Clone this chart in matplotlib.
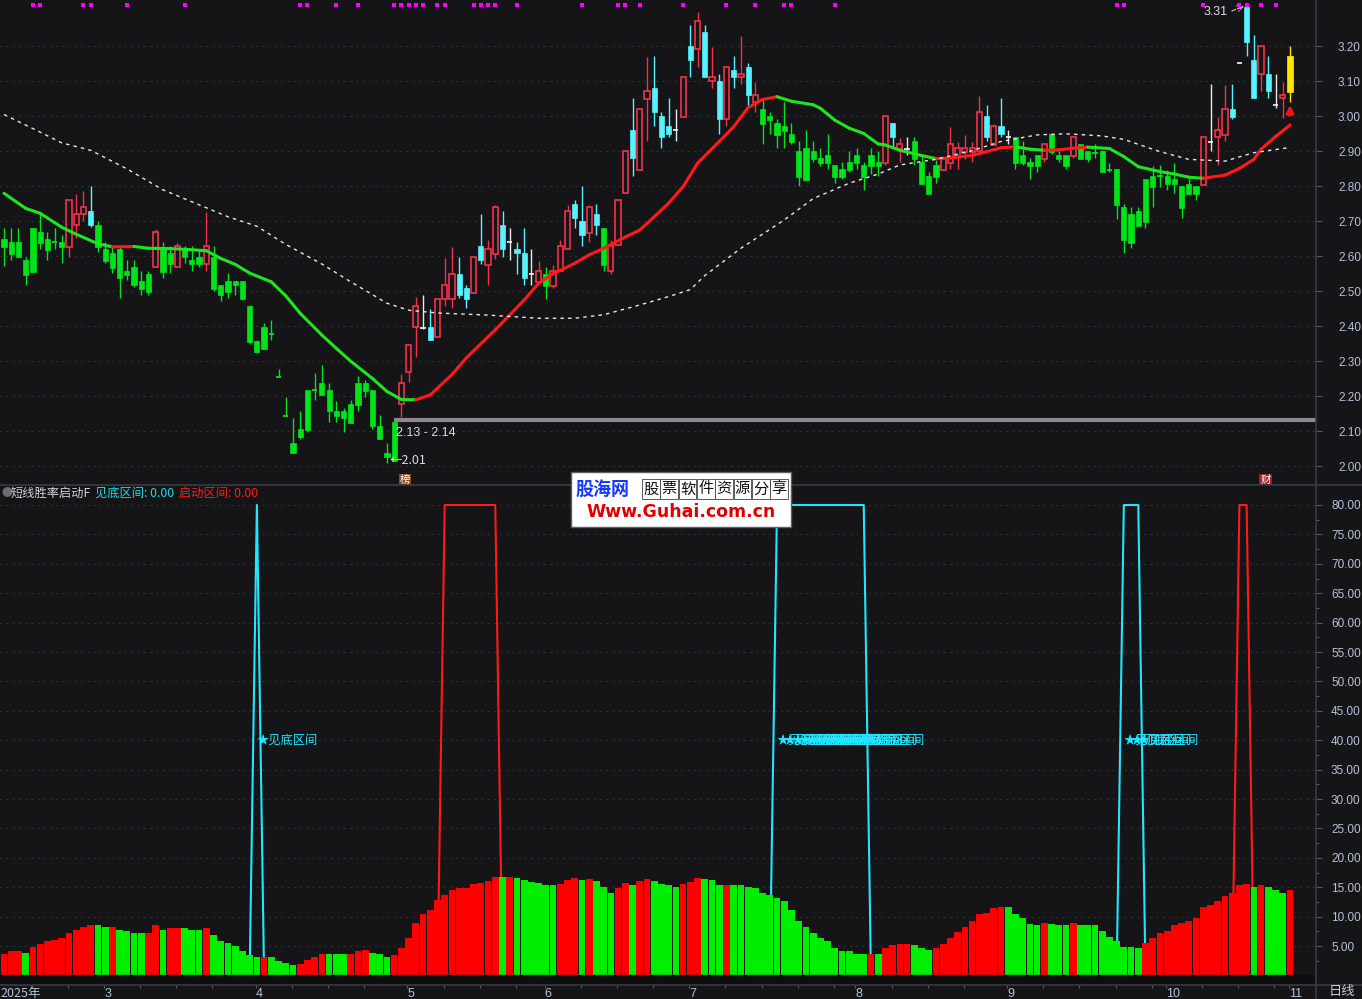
import numpy as np
import matplotlib
matplotlib.use("Agg")
import matplotlib.pyplot as plt
from matplotlib.patches import Rectangle
from matplotlib.collections import LineCollection
from matplotlib.lines import Line2D

plt.rcParams['font.family'] = ['Noto Sans CJK SC', 'DejaVu Sans']

# ---------- DATA (daily candles, index 0 = mid Feb 2025, 178 = 3 Nov) ----------
opens = [2.649, 2.641, 2.641, 2.590, 2.681, 2.670, 2.650, 2.640, 2.641, 2.628,
         2.689, 2.721, 2.730, 2.690, 2.621, 2.610, 2.621, 2.559, 2.570, 2.530,
         2.550, 2.569, 2.621, 2.610, 2.569, 2.621, 2.590, 2.599, 2.578, 2.599,
         2.519, 2.530, 2.530, 2.530, 2.458, 2.358, 2.398, 2.377, 2.256, 2.145,
         2.066, 2.106, 2.218, 2.218, 2.238, 2.218, 2.158, 2.158, 2.178, 2.238,
         2.238, 2.218, 2.116, 2.038, 2.126, 2.178, 2.269, 2.398, 2.395, 2.398,
         2.370, 2.477, 2.477, 2.549, 2.509, 2.496, 2.629, 2.575, 2.607, 2.689,
         2.640, 2.621, 2.609, 2.549, 2.527, 2.549, 2.515, 2.558, 2.621, 2.749,
         2.701, 2.668, 2.721, 2.681, 2.558, 2.632, 2.780, 2.961, 2.847, 3.050,
         3.081, 3.001, 2.972, 2.961, 2.999, 3.201, 3.191, 3.241, 3.100, 3.101,
         2.991, 3.132, 3.111, 3.141, 3.041, 3.021, 3.001, 2.981, 2.972, 2.949,
         2.901, 2.909, 2.901, 2.881, 2.889, 2.861, 2.849, 2.869, 2.889, 2.861,
         2.889, 2.869, 2.868, 2.981, 2.907, 2.908, 2.929, 2.869, 2.829, 2.861,
         2.847, 2.868, 2.887, 2.898, 2.898, 2.901, 3.001, 2.918, 2.972, 2.940,
         2.941, 2.889, 2.869, 2.890, 2.879, 2.949, 2.890, 2.890, 2.887, 2.921,
         2.901, 2.895, 2.901, 2.848, 2.849, 2.742, 2.721, 2.729, 2.821, 2.829,
         2.829, 2.829, 2.821, 2.801, 2.808, 2.801, 2.803, 2.927, 2.940, 2.947,
         3.021, 3.152, 3.312, 3.161, 3.120, 3.121, 3.031, 3.051, 3.172]
highs = [2.681, 2.681, 2.681, 2.598, 2.681, 2.723, 2.670, 2.681, 2.661, 2.760,
         2.778, 2.787, 2.801, 2.701, 2.640, 2.626, 2.629, 2.590, 2.590, 2.559,
         2.559, 2.679, 2.641, 2.630, 2.638, 2.629, 2.629, 2.620, 2.727, 2.629,
         2.519, 2.551, 2.530, 2.530, 2.460, 2.360, 2.410, 2.418, 2.278, 2.198,
         2.137, 2.158, 2.218, 2.268, 2.289, 2.238, 2.187, 2.166, 2.189, 2.258,
         2.247, 2.218, 2.147, 2.066, 2.130, 2.264, 2.348, 2.485, 2.489, 2.449,
         2.478, 2.594, 2.627, 2.598, 2.518, 2.598, 2.722, 2.647, 2.747, 2.729,
         2.681, 2.641, 2.681, 2.621, 2.587, 2.569, 2.575, 2.647, 2.747, 2.761,
         2.801, 2.747, 2.749, 2.681, 2.647, 2.761, 2.901, 3.052, 3.021, 3.169,
         3.172, 3.012, 3.052, 3.021, 3.111, 3.261, 3.298, 3.261, 3.198, 3.121,
         3.140, 3.172, 3.229, 3.152, 3.098, 3.049, 3.012, 2.992, 3.041, 2.981,
         2.929, 2.961, 2.929, 2.909, 2.949, 2.861, 2.869, 2.901, 2.909, 2.869,
         2.909, 2.901, 3.001, 2.981, 2.938, 2.941, 2.941, 2.889, 2.841, 2.875,
         2.878, 2.969, 2.927, 2.947, 2.927, 3.058, 3.032, 2.978, 3.052, 2.961,
         2.941, 2.929, 2.881, 2.890, 2.921, 2.949, 2.901, 2.890, 2.941, 2.921,
         2.901, 2.921, 2.904, 2.868, 2.849, 2.749, 2.740, 2.740, 2.821, 2.859,
         2.861, 2.848, 2.868, 2.801, 2.821, 2.801, 2.941, 3.092, 2.999, 3.089,
         3.092, 3.152, 3.312, 3.232, 3.201, 3.172, 3.121, 3.099, 3.200]
lows = [2.571, 2.590, 2.597, 2.519, 2.556, 2.621, 2.590, 2.621, 2.580, 2.599,
        2.651, 2.702, 2.683, 2.612, 2.580, 2.552, 2.480, 2.531, 2.511, 2.490,
        2.490, 2.569, 2.539, 2.552, 2.569, 2.580, 2.559, 2.570, 2.559, 2.500,
        2.471, 2.480, 2.489, 2.476, 2.350, 2.325, 2.335, 2.361, 2.256, 2.145,
        2.037, 2.078, 2.099, 2.189, 2.204, 2.128, 2.128, 2.099, 2.125, 2.158,
        2.198, 2.108, 2.077, 2.010, 2.016, 2.140, 2.240, 2.313, 2.393, 2.360,
        2.370, 2.459, 2.451, 2.480, 2.451, 2.496, 2.578, 2.518, 2.591, 2.598,
        2.589, 2.549, 2.518, 2.518, 2.518, 2.478, 2.509, 2.558, 2.621, 2.681,
        2.629, 2.641, 2.661, 2.558, 2.549, 2.632, 2.780, 2.829, 2.847, 2.929,
        2.972, 2.909, 2.941, 2.929, 2.999, 3.112, 3.141, 3.112, 3.081, 2.949,
        2.972, 3.081, 3.092, 3.032, 3.012, 2.921, 2.949, 2.909, 2.909, 2.921,
        2.801, 2.818, 2.869, 2.858, 2.849, 2.809, 2.821, 2.841, 2.849, 2.789,
        2.835, 2.829, 2.861, 2.912, 2.870, 2.889, 2.861, 2.807, 2.778, 2.810,
        2.847, 2.850, 2.850, 2.878, 2.869, 2.901, 2.929, 2.918, 2.941, 2.921,
        2.850, 2.861, 2.821, 2.841, 2.869, 2.892, 2.869, 2.850, 2.881, 2.878,
        2.869, 2.881, 2.842, 2.842, 2.708, 2.610, 2.623, 2.687, 2.682, 2.742,
        2.799, 2.789, 2.782, 2.710, 2.779, 2.761, 2.803, 2.902, 2.862, 2.930,
        2.993, 3.152, 3.173, 3.053, 3.073, 3.053, 3.023, 2.994, 3.042]
closes = [2.628, 2.607, 2.597, 2.548, 2.556, 2.639, 2.619, 2.640, 2.628, 2.760,
          2.721, 2.740, 2.690, 2.628, 2.588, 2.568, 2.537, 2.548, 2.517, 2.508,
          2.497, 2.670, 2.556, 2.577, 2.629, 2.597, 2.577, 2.577, 2.629, 2.508,
          2.490, 2.497, 2.517, 2.478, 2.356, 2.328, 2.335, 2.377, 2.256, 2.145,
          2.037, 2.083, 2.104, 2.218, 2.204, 2.157, 2.144, 2.137, 2.125, 2.176,
          2.216, 2.116, 2.077, 2.026, 2.016, 2.237, 2.348, 2.458, 2.395, 2.360,
          2.478, 2.518, 2.549, 2.489, 2.478, 2.598, 2.589, 2.620, 2.741, 2.621,
          2.640, 2.609, 2.538, 2.549, 2.558, 2.515, 2.558, 2.629, 2.729, 2.709,
          2.661, 2.741, 2.689, 2.575, 2.629, 2.761, 2.901, 2.881, 3.021, 3.072,
          3.012, 2.941, 2.949, 2.961, 3.111, 3.161, 3.271, 3.112, 3.111, 2.992,
          3.140, 3.112, 3.121, 3.061, 3.061, 2.978, 2.989, 2.946, 2.958, 2.926,
          2.827, 2.818, 2.878, 2.866, 2.866, 2.827, 2.827, 2.846, 2.866, 2.827,
          2.858, 2.858, 3.001, 2.941, 2.921, 2.908, 2.878, 2.807, 2.778, 2.827,
          2.878, 2.921, 2.909, 2.909, 2.909, 3.012, 2.941, 2.972, 2.949, 2.940,
          2.867, 2.867, 2.858, 2.858, 2.921, 2.898, 2.878, 2.858, 2.941, 2.878,
          2.878, 2.895, 2.842, 2.848, 2.747, 2.647, 2.639, 2.687, 2.699, 2.799,
          2.829, 2.808, 2.808, 2.739, 2.779, 2.779, 2.941, 2.927, 2.960, 3.020,
          2.999, 3.152, 3.213, 3.053, 3.201, 3.073, 3.031, 3.060, 3.070]

# moving averages (day index, value)
fast_ma_idx = [0, 3, 5, 8, 10, 13, 15, 18, 20, 23, 25, 28, 30, 32, 34, 37, 39, 41,
               44, 46, 48, 51, 53, 55, 57, 59, 62, 64, 66, 68, 72, 74, 76, 79, 81,
               83, 86, 88, 90, 92, 94, 96, 99, 101, 103, 105, 107, 109, 112, 113,
               115, 117, 119, 121, 122, 124, 127, 129, 131, 134, 136, 138, 140,
               142, 144, 146, 148, 150, 153, 155, 157, 160, 162, 164, 166, 169,
               171, 173, 174, 176, 178]
fast_ma_val = [2.780, 2.737, 2.723, 2.683, 2.663, 2.636, 2.627, 2.628, 2.623, 2.622,
               2.620, 2.616, 2.594, 2.577, 2.552, 2.527, 2.487, 2.437, 2.375, 2.337,
               2.300, 2.251, 2.214, 2.191, 2.190, 2.204, 2.262, 2.310, 2.350, 2.390,
               2.475, 2.523, 2.550, 2.580, 2.604, 2.623, 2.655, 2.675, 2.713, 2.752,
               2.799, 2.866, 2.928, 2.970, 3.025, 3.048, 3.056, 3.043, 3.033, 3.023,
               2.989, 2.966, 2.951, 2.921, 2.918, 2.903, 2.888, 2.879, 2.881, 2.888,
               2.899, 2.910, 2.913, 2.906, 2.903, 2.904, 2.909, 2.912, 2.908, 2.885,
               2.856, 2.842, 2.835, 2.826, 2.823, 2.832, 2.851, 2.877, 2.906, 2.942,
               2.975]
slow_ma_idx = [0, 4, 8, 12, 17, 22, 31, 35, 39, 44, 48, 53, 56, 60, 67, 74, 79, 83,
               88, 92, 95, 97, 102, 108, 112, 117, 121, 124, 129, 134, 138, 143, 147,
               152, 155, 160, 164, 169, 173, 178]
slow_ma_val = [3.005, 2.965, 2.924, 2.903, 2.850, 2.790, 2.713, 2.686, 2.634, 2.578,
               2.527, 2.466, 2.446, 2.438, 2.432, 2.423, 2.423, 2.433, 2.461, 2.485,
               2.505, 2.545, 2.623, 2.704, 2.765, 2.809, 2.835, 2.861, 2.877, 2.902,
               2.928, 2.947, 2.950, 2.944, 2.934, 2.899, 2.877, 2.872, 2.896, 2.911]

# indicator panel: bar heights and up/down flag (r = red, g = green)
bar_val = [3.7, 4.1, 4.1, 3.9, 4.9, 5.4, 5.8, 6.1, 6.3, 7.3,
           7.8, 8.3, 8.5, 8.5, 8.3, 8.3, 7.8, 7.6, 7.3, 7.3,
           7.3, 8.5, 7.8, 8.0, 8.1, 8.1, 7.8, 7.8, 8.1, 6.9,
           5.9, 5.5, 5.0, 4.2, 3.4, 3.1, 3.1, 3.1, 2.4, 2.1,
           1.8, 2.0, 2.6, 3.1, 3.6, 3.6, 3.6, 3.6, 3.7, 4.1,
           4.4, 3.9, 3.7, 3.2, 3.4, 4.6, 6.3, 9.0, 10.4, 11.2,
           12.9, 13.7, 14.6, 14.8, 14.8, 15.6, 15.8, 16.1, 16.8, 16.8,
           16.8, 16.6, 16.3, 15.9, 15.8, 15.3, 15.3, 15.6, 16.3, 16.6,
           16.3, 16.4, 16.1, 15.0, 14.0, 14.8, 15.8, 15.4, 16.1, 16.4,
           16.1, 15.6, 15.3, 15.0, 15.6, 15.9, 16.6, 16.4, 16.3, 15.4,
           15.4, 15.4, 15.3, 15.0, 14.8, 14.1, 13.6, 13.1, 12.6, 11.2,
           9.2, 8.3, 7.3, 6.4, 5.8, 4.7, 4.2, 4.1, 3.7, 3.6,
           3.7, 3.6, 4.7, 5.2, 5.4, 5.4, 5.2, 4.6, 4.4, 4.7,
           5.4, 6.4, 7.4, 8.3, 9.2, 10.5, 10.7, 11.4, 11.6, 11.6,
           10.5, 9.7, 8.8, 8.6, 9.0, 8.8, 8.5, 8.5, 9.0, 8.6,
           8.6, 8.6, 7.6, 6.6, 5.8, 4.9, 4.9, 4.7, 5.5, 6.4,
           7.3, 7.6, 8.5, 9.0, 9.2, 9.7, 11.6, 12.0, 12.6, 13.5,
           14.0, 15.3, 15.6, 15.0, 15.4, 15.0, 14.5, 14.1, 14.5]
bar_dir = ("rrrgrrrrrr" "rrrggrgggg" "rrgrrgggrg" "ggggggrggg" "grrrrgggrr"
           "rgggrrrrrr" "rrrrrrrrrg" "rggggggrrr" "grgggrrgrr" "ggggrrrggg"
           "rggggggggg" "gggggggggg" "rgrrrrgggr" "rrrrrrrrrg" "ggggrgggrg"
           "ggggggggrr" "rrrrrrrrrr" "rrrgrgggr")

# signal days: 见底区间 (cyan) and 启动区间 (red) jump to 80
bottom_zone_days = [35, 107, 108, 109, 110, 111, 112, 113, 114, 115, 116, 117,
                    118, 119, 155, 156, 157]
start_zone_days = [61, 62, 63, 64, 65, 66, 67, 68, 171, 172]
signal_top = 80

# magenta marks along the top
mark_days = [4, 5, 11, 12, 17, 25, 41, 42, 46, 49, 54, 55, 56, 57, 58, 60, 61,
             65, 66, 67, 68, 71, 80, 85, 86, 88, 94, 100, 104, 108, 109, 115,
             154, 155, 166, 171, 172, 174, 176]

month_days = [14, 35, 56, 75, 95, 118, 139, 161, 178]
month_labels = ['3', '4', '5', '6', '7', '8', '9', '10', '11']
price_ticks = [2.0, 2.1, 2.2, 2.3, 2.4, 2.5, 2.6, 2.7, 2.8, 2.9, 3.0, 3.1, 3.2]
ind_ticks = [5, 10, 15, 20, 25, 30, 35, 40, 45, 50, 55, 60, 65, 70, 75, 80]

# ---------- STYLE ----------
BG = '#151417'
RED = '#f5304a'
CYAN = '#55f2ff'
GREEN = '#00e41a'
WHITE = '#e8e8e8'
YELLOW = '#ffe600'
AXIS_TXT = '#b4c2da'
LINE = '#3a3a44'
GRID = '#3c3c46'
NUM_FONT = 'Liberation Sans'

W, H = 1362, 999
fig = plt.figure(figsize=(W / 100, H / 100), dpi=100, facecolor=BG)


def fx(px):
    return px / W


def fy(py):
    return 1 - py / H


ax = fig.add_axes([0, fy(485), fx(1316), 485 / H])
ax2 = fig.add_axes([0, fy(985), fx(1316), 500 / H])
for a in (ax, ax2):
    a.set_facecolor(BG)
    for s in a.spines.values():
        s.set_visible(False)
    a.set_xlim(-0.554, 181.6)

n = len(closes)
idx = np.arange(n)

# ---------- CANDLES ----------
ma_here = np.interp(idx, fast_ma_idx, fast_ma_val)
bw = 0.72
for i in idx:
    o, h, l, c = opens[i], highs[i], lows[i], closes[i]
    lo_b, hi_b = min(o, c), max(o, c)
    if i == n - 1:
        col = YELLOW
    elif c > o:
        col = RED
    elif c < o:
        col = CYAN if c >= ma_here[i] else GREEN
    else:
        col = WHITE if c >= ma_here[i] else GREEN
    ax.vlines(i, l, h, color=col, lw=1, zorder=2)
    if c == o:
        ax.hlines(c, i - bw / 2, i + bw / 2, color=col, lw=1.3, zorder=3)
    elif col == RED:
        ax.add_patch(Rectangle((i - bw / 2, lo_b), bw, hi_b - lo_b,
                               fc=BG, ec=col, lw=1.2, zorder=3))
    else:
        ax.add_patch(Rectangle((i - bw / 2, lo_b), bw, hi_b - lo_b,
                               fc=col, ec=col, lw=0.5, zorder=3))

# ---------- MOVING AVERAGES ----------
pts = np.column_stack([fast_ma_idx, fast_ma_val])
segs = np.stack([pts[:-1], pts[1:]], axis=1)
seg_cols = ['#ff1a1a' if b > a else '#1ee61e'
            for a, b in zip(fast_ma_val[:-1], fast_ma_val[1:])]
ax.add_collection(LineCollection(segs, colors=seg_cols, lw=2.2, zorder=4,
                                 capstyle='round'))
ax.plot(slow_ma_idx, slow_ma_val, color=WHITE, lw=1, ls=(0, (2.5, 3)), zorder=4)

# gap line and labels
ax.hlines(2.132, 54, 181.6, color='#8a8a8e', lw=3, zorder=1)
ax.text(54.2, 2.095, '2.13 - 2.14', color='#d8dce8', fontsize=9, va='center',
        ha='left', zorder=6, family=NUM_FONT)
ax.text(53.3, 2.016, '\u21902.01', color='#d8dce8', fontsize=9, va='center',
        ha='left', zorder=6)
ax.annotate('', xy=(172, 3.318), xytext=(169.6, 3.298),
            arrowprops=dict(arrowstyle='->', color='#c8c8d0', lw=0.8, ls='--'),
            zorder=6)
ax.text(169.4, 3.298, '3.31', color='#d8dce8', fontsize=9, va='center',
        ha='right', zorder=6, family=NUM_FONT)
ax.annotate('', xy=(178, 3.04), xytext=(178, 2.995),
            arrowprops=dict(arrowstyle='-|>', color='#ff1010', lw=2,
                            mutation_scale=11), zorder=6)

# magenta marks at the top edge
ax.scatter(mark_days, [3.318] * len(mark_days), marker='s', s=9,
           color='#ff00ff', zorder=6, linewidths=0)

# small tags at the bottom of the price panel
ax.text(55.5, 1.96, '榜', fontsize=7.5, color='#ffffff', ha='center',
        va='center', zorder=6,
        bbox=dict(boxstyle='square,pad=0.1', fc='#8b4a1c', ec='none'))
ax.text(174.6, 1.96, '财', fontsize=7.5, color='#ffffff', ha='center',
        va='center', zorder=6,
        bbox=dict(boxstyle='square,pad=0.1', fc='#a0202a', ec='none'))

ax.set_ylim(1.9466, 3.3323)
ax.yaxis.tick_right()
ax.set_yticks(price_ticks)
ax.set_yticklabels([f'{v:.2f}' for v in price_ticks], family=NUM_FONT)
ax.set_xticks([])
ax.grid(axis='y', color=GRID, ls=(0, (1, 4)), lw=0.9)
ax.tick_params(axis='y', colors='#5a5a66', labelcolor=AXIS_TXT, length=4,
               width=0.8, pad=11.8, labelsize=8.5)

# ---------- INDICATOR PANEL ----------
cyan_line = [signal_top if d in bottom_zone_days else 0 for d in idx]
red_line = [signal_top if d in start_zone_days else 0 for d in idx]
ax2.plot(idx, cyan_line, color='#22e6ff', lw=1.5, zorder=2)
ax2.plot(idx, red_line, color='#ff1a1a', lw=1.5, zorder=2)
bar_cols = ['#ff0000' if d == 'r' else '#00ee00' for d in bar_dir]
ax2.bar(idx, bar_val, width=0.93, color=bar_cols, zorder=3, linewidth=0)
ax2.axhspan(-2, 0, color='#0e0e10', zorder=3.5)
for d in bottom_zone_days:
    ax2.text(d - 0.05, 40, '★见底区间', color='#22e6ff', fontsize=8.8,
             ha='left', va='center', zorder=5)

ax2.set_ylim(-1.62, 83.4)
ax2.yaxis.tick_right()
ax2.set_yticks(ind_ticks)
ax2.set_yticklabels([f'{v:.2f}' for v in ind_ticks], family=NUM_FONT)
ax2.set_yticks([v + 2.5 for v in ind_ticks[:-1]] + [2.5], minor=True)
ax2.grid(axis='y', color=GRID, ls=(0, (1, 4)), lw=0.9)
ax2.tick_params(axis='y', which='major', colors='#5a5a66', labelcolor=AXIS_TXT,
                length=4, width=0.8, pad=6.8, labelsize=8.5)
ax2.tick_params(axis='y', which='minor', colors='#5a5a66', length=2, width=0.8)

# month axis
ax2.set_xticks([m - 0.15 for m in month_days])
ax2.set_xticklabels(month_labels, family=NUM_FONT)
minor_x = []
for a_, b_ in zip([-1] + month_days[:-1], month_days):
    minor_x += [d - 0.15 for d in range(a_ + 5, b_ - 1, 5) if d > 0]
ax2.set_xticks(minor_x, minor=True)
ax2.tick_params(axis='x', which='major', colors='#5a5a66', labelcolor=AXIS_TXT,
                length=2, width=0.8, pad=0, labelsize=9)
ax2.tick_params(axis='x', which='minor', colors='#5a5a66', length=2, width=0.8)
for lab in ax2.get_xticklabels():
    lab.set_horizontalalignment('left')

# ---------- FRAME AND HEADERS ----------
for (x0, y0, x1, y1) in [(0, 485, W, 485), (0, 985, W, 985), (1316, 0, 1316, H)]:
    fig.add_artist(Line2D([fx(x0), fx(x1)], [fy(y0), fy(y1)], color=LINE, lw=1.2))

fig.text(fx(0), fy(993), '2025年', color=AXIS_TXT, fontsize=9, va='center')
fig.text(fx(1329), fy(992), '日线', color='#c8ccd8', fontsize=9.5, va='center')

fig.text(fx(1), fy(493), '●', color='#6e6e72', fontsize=8, va='center')
fig.text(fx(11), fy(493), '短线胜率启动F', color='#d0d0d6', fontsize=8.8,
         va='center')
fig.text(fx(95), fy(493), '见底区间: 0.00', color='#16e0e8', fontsize=8.8,
         va='center')
fig.text(fx(179), fy(493), '启动区间: 0.00', color='#ff1a1a', fontsize=8.8,
         va='center')

# watermark box
fig.patches.append(Rectangle((fx(571), fy(527)), fx(220), 55 / H,
                             transform=fig.transFigure, fc='white',
                             ec='#606060', lw=1, zorder=10))
fig.text(fx(575), fy(489), '股海网', color='#1538ff', fontsize=13,
         fontweight='bold', va='center', zorder=11)
for k, ch in enumerate('股票软件资源分享'):
    fig.text(fx(651 + k * 18.3), fy(489), ch, color='#101010', fontsize=11,
             va='center', ha='center', zorder=11,
             bbox=dict(boxstyle='square,pad=0.08', fc='white', ec='#404040',
                       lw=0.6))
fig.text(fx(681), fy(512), 'Www.Guhai.com.cn', color='#e00000', fontsize=12.5,
         fontweight='bold', va='center', ha='center', zorder=11,
         family='DejaVu Sans')

fig.savefig('out.png', dpi=100, facecolor=BG)
